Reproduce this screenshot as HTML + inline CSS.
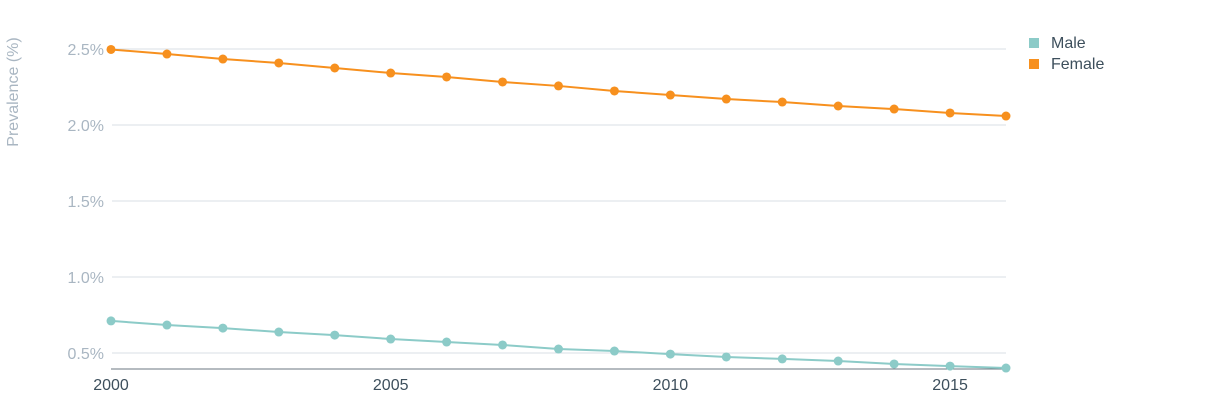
<!DOCTYPE html>
<html><head><meta charset="utf-8"><style>
body{margin:0;background:#fff;width:1230px;height:403px;overflow:hidden;font-family:"Liberation Sans",sans-serif}
</style></head><body>
<svg id="chart" width="1230" height="403" xmlns="http://www.w3.org/2000/svg">
<g id="grid"></g><g id="axes"></g><g id="series"></g>
<g>
<g><rect x="1029" y="38" width="10" height="10" fill="#8ccbc8"/><text x="1051" y="48" font-size="16" fill="#3d4f5c">Male</text></g>
<g><rect x="1029" y="59" width="10" height="10" fill="#f7901e"/><text x="1051" y="69" font-size="16" fill="#3d4f5c">Female</text></g>
</g>
<text transform="translate(18,92) rotate(-90)" text-anchor="middle" font-size="16" fill="#a9b6c2">Prevalence (%)</text>
</svg>
<script>
const years=[2000,2001,2002,2003,2004,2005,2006,2007,2008,2009,2010,2011,2012,2013,2014,2015,2016];
const female=[2.497,2.467,2.434,2.408,2.375,2.342,2.316,2.283,2.257,2.224,2.197,2.171,2.151,2.125,2.105,2.079,2.059];
const male=[0.711,0.684,0.664,0.638,0.618,0.592,0.572,0.553,0.526,0.513,0.493,0.474,0.461,0.447,0.428,0.414,0.401];
const yTicks=[0.5,1.0,1.5,2.0,2.5];
const xTicks=[2000,2005,2010,2015];
const NS="http://www.w3.org/2000/svg";
const x=v=>111+(v-2000)*(1006-111)/16;
const y=v=>353-(v-0.5)*152;
function mk(t,a,p){const e=document.createElementNS(NS,t);for(const k in a)e.setAttribute(k,a[k]);p.appendChild(e);return e;}
const grid=document.getElementById('grid'),axes=document.getElementById('axes'),ser=document.getElementById('series');
yTicks.forEach(v=>{
 const l=mk('line',{x1:112,x2:1006,y1:y(v),y2:y(v),stroke:'#d8dfe6','stroke-width':1},grid);
 
 
 const t=mk('text',{x:104,y:y(v)+6,'text-anchor':'end','font-size':16,fill:'#a9b6c2'},axes);
 t.textContent=v.toFixed(1)+'%';
 
 
});
const ax=mk('line',{x1:111,x2:1006,y1:369,y2:369,stroke:'#6b7780','stroke-width':1},axes);


xTicks.forEach(v=>{
 const t=mk('text',{x:x(v),y:390,'text-anchor':'middle','font-size':16,fill:'#3d4f5c'},axes);
 t.textContent=v;
 
 
});
[[male,'#8ccbc8','male'],[female,'#f7901e','female']].forEach(([d,c,n])=>{
 const p=mk('polyline',{points:d.map((v,i)=>x(years[i])+','+y(v)).join(' '),fill:'none',stroke:c,'stroke-width':2},ser);
 
 
 d.forEach((v,i)=>{
  const ci=mk('circle',{cx:x(years[i]),cy:y(v),r:4.5,fill:c},ser);
  
  
 });
});
</script>
</body></html>
